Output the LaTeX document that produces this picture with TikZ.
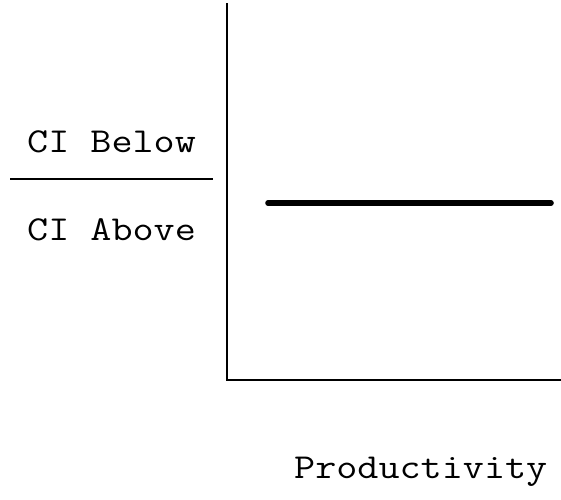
\documentclass[tikz,border=0pt]{standalone}
\usepackage{fontspec}
\setmonofont{Latin Modern Mono}[FakeStretch=1.17]
\begin{document}
\begin{tikzpicture}[x=1pt,y=-1pt,
  lbl/.style={font=\ttfamily\fontsize{35}{40}\selectfont, inner sep=0pt, anchor=base west},
  axis/.style={line width=2.8pt},
  level/.style={line width=5.6pt, line cap=round}]
\useasboundingbox[fill=white] (0,0) rectangle (561,499);
\coordinate (top) at (227,3);
\coordinate (origin) at (227,380);
\coordinate (xend) at (561,380);
\coordinate (divL) at (10,179);
\coordinate (divR) at (213,179);
\coordinate (levL) at (268,203);
\coordinate (levR) at (551,203);
\draw[axis] (top) -- (origin) -- (xend);
\draw[line width=2.4pt] (divL) -- (divR);
\draw[level] (levL) -- (levR);
\node[lbl] (below) at (27,152) {CI Below};
\node[lbl] (above) at (27,240) {CI Above};
\node[lbl] (prod) at (294,478) {Productivity};
\end{tikzpicture}
\end{document}
